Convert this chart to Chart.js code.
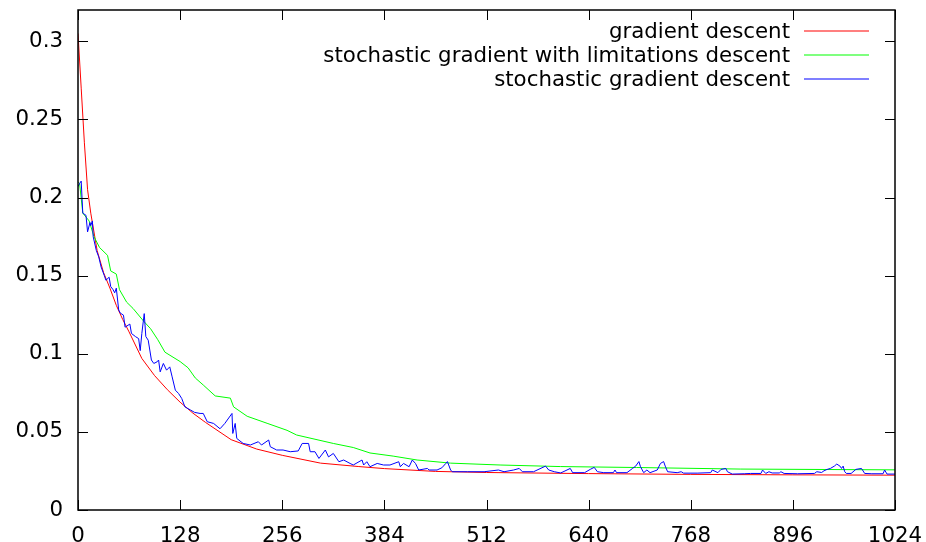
<!DOCTYPE html>
<html>
<head>
<meta charset="utf-8">
<script src="https://cdn.jsdelivr.net/npm/chart.js@4.4.0/dist/chart.umd.min.js"></script>
<style>
  html, body { margin: 0; padding: 0; background: #fff; }
  canvas { display: block; }
</style>
</head>
<body>
<canvas id="chart" width="926" height="542"></canvas>
<script>
// tick labels
const xTicks = [0, 128, 256, 384, 512, 640, 768, 896, 1024];
const yTicks = [0, 0.05, 0.1, 0.15, 0.2, 0.25, 0.3];

const seriesNames = ['gradient descent', 'stochastic gradient with limitations descent', 'stochastic gradient descent'];
const seriesColors = ['#ff0000', '#00ff00', '#0000ff'];

// gradient descent (red)
const redX = [0, 4, 8, 12, 16, 24, 32, 40, 48, 56, 64, 80, 96, 112, 128, 144, 160, 192, 224, 256, 304, 352, 384, 448, 512, 640, 768, 896, 1024];
const redY = [0.305, 0.27, 0.235, 0.205, 0.19, 0.166, 0.152, 0.142, 0.131, 0.122, 0.114, 0.097, 0.086, 0.077, 0.069, 0.062, 0.056, 0.045, 0.039, 0.035, 0.030, 0.0278, 0.0265, 0.0247, 0.024, 0.0233, 0.0228, 0.0225, 0.0223];

// stochastic gradient with limitations descent (green)
const greenX = [0, 2, 6, 14, 20, 27, 37, 41, 48, 52, 61, 69, 82, 91, 100, 109, 128, 138, 147, 157, 172, 191, 195, 212, 237, 262, 274, 320, 345, 366, 395, 425, 467, 529, 605, 700, 830, 1024];
const greenY = [0.21, 0.209, 0.19, 0.185, 0.175, 0.168, 0.163, 0.153, 0.151, 0.141, 0.133, 0.129, 0.121, 0.116, 0.109, 0.101, 0.095, 0.091, 0.0845, 0.080, 0.073, 0.0716, 0.066, 0.060, 0.0555, 0.051, 0.048, 0.0426, 0.040, 0.0365, 0.0345, 0.032, 0.030, 0.0288, 0.0278, 0.0272, 0.0262, 0.0257];

// stochastic gradient descent (blue)
const blueX = [0, 2, 4, 6, 10, 12, 15, 16, 18, 19, 23, 26, 29, 33, 35, 39, 41, 44, 46, 48, 51, 53, 57, 59, 65, 67, 72, 76, 78, 80, 83, 85, 88, 92, 95, 99, 101, 103, 107, 111, 115, 118, 122, 126, 130, 134, 141, 146, 153, 157, 162, 170, 178, 184, 193, 194, 197, 199, 207, 216, 226, 230, 239, 241, 249, 257, 266, 276, 281, 289, 291, 297, 302, 310, 314, 320, 327, 333, 341, 345, 356, 358, 362, 366, 375, 383, 391, 402, 404, 408, 415, 419, 423, 427, 438, 440, 450, 456, 461, 463, 467, 469, 488, 509, 527, 534, 546, 553, 557, 571, 586, 590, 597, 605, 617, 620, 635, 642, 647, 651, 659, 671, 673, 675, 688, 695, 699, 703, 705, 709, 713, 717, 726, 730, 734, 736, 739, 751, 756, 759, 776, 793, 795, 802, 806, 812, 814, 820, 835, 843, 856, 858, 862, 866, 870, 879, 881, 885, 902, 923, 926, 932, 935, 939, 943, 948, 951, 955, 957, 959, 961, 963, 969, 975, 982, 986, 995, 1009, 1011, 1014, 1024];
const blueY = [0.207, 0.209, 0.2105, 0.19, 0.1886, 0.178, 0.184, 0.182, 0.185, 0.175, 0.166, 0.162, 0.1555, 0.15, 0.147, 0.149, 0.143, 0.141, 0.139, 0.142, 0.128, 0.126, 0.1247, 0.117, 0.119, 0.113, 0.111, 0.1097, 0.102, 0.113, 0.1257, 0.111, 0.1087, 0.096, 0.0938, 0.0948, 0.096, 0.0884, 0.0938, 0.0895, 0.0916, 0.0852, 0.0767, 0.0746, 0.0714, 0.066, 0.064, 0.0625, 0.0618, 0.0618, 0.0565, 0.0554, 0.052, 0.0554, 0.0618, 0.049, 0.0554, 0.0458, 0.0426, 0.0416, 0.0437, 0.0416, 0.0448, 0.0405, 0.0384, 0.0384, 0.0373, 0.0378, 0.0426, 0.0426, 0.0373, 0.0373, 0.033, 0.0384, 0.034, 0.0362, 0.0309, 0.032, 0.0298, 0.0288, 0.032, 0.0288, 0.0309, 0.0277, 0.0298, 0.0288, 0.0288, 0.0309, 0.0277, 0.0298, 0.0277, 0.032, 0.0298, 0.0256, 0.0266, 0.0256, 0.0256, 0.027, 0.0298, 0.031, 0.0256, 0.0245, 0.0245, 0.0245, 0.0256, 0.0245, 0.0256, 0.0266, 0.0245, 0.0245, 0.0281, 0.0256, 0.0245, 0.0237, 0.0266, 0.0239, 0.0239, 0.026, 0.0273, 0.0245, 0.0239, 0.0239, 0.0256, 0.0239, 0.0239, 0.0266, 0.0281, 0.031, 0.0277, 0.0239, 0.0256, 0.0239, 0.0256, 0.0298, 0.031, 0.0281, 0.0245, 0.0239, 0.0245, 0.0236, 0.0236, 0.0239, 0.0256, 0.0239, 0.026, 0.0266, 0.0245, 0.023, 0.0232, 0.0234, 0.0234, 0.0256, 0.0234, 0.0245, 0.0237, 0.0237, 0.0245, 0.0234, 0.0232, 0.0234, 0.0245, 0.024, 0.0251, 0.026, 0.0266, 0.0281, 0.0294, 0.0281, 0.0266, 0.0281, 0.0245, 0.0234, 0.0234, 0.026, 0.0266, 0.0234, 0.0232, 0.0232, 0.0256, 0.023, 0.023];

const FONT = "'DejaVu Sans', sans-serif";
const FONT_SIZE = 21.33;

function pts(xs, ys) {
  return xs.map((x, i) => ({ x: x, y: ys[i] }));
}

// gnuplot style frame: border, inward ticks on all four sides, legend top right
const gnuplotFrame = {
  id: 'gnuplotFrame',
  afterDraw(chart) {
    const ctx = chart.ctx;
    const a = chart.chartArea;
    const xs = chart.scales.x, ys = chart.scales.y;
    const tl = 10;
    ctx.save();
    ctx.strokeStyle = '#000';
    ctx.lineWidth = 1;
    ctx.beginPath();
    xTicks.forEach(v => {
      const px = Math.round(xs.getPixelForValue(v)) + 0.5;
      ctx.moveTo(px, a.bottom); ctx.lineTo(px, a.bottom - tl);
      ctx.moveTo(px, a.top); ctx.lineTo(px, a.top + tl);
    });
    yTicks.forEach(v => {
      const py = Math.round(ys.getPixelForValue(v)) + 0.5;
      ctx.moveTo(a.left, py); ctx.lineTo(a.left + tl, py);
      ctx.moveTo(a.right, py); ctx.lineTo(a.right - tl, py);
    });
    ctx.stroke();
    ctx.lineWidth = 1.5;
    ctx.strokeRect(a.left, a.top, a.right - a.left, a.bottom - a.top);

    // legend
    ctx.font = FONT_SIZE + 'px ' + FONT;
    ctx.textAlign = 'right';
    ctx.textBaseline = 'middle';
    seriesNames.forEach((name, i) => {
      const y = 31 + i * 24;
      ctx.fillStyle = '#000';
      ctx.fillText(name, 790, y + 1);
      ctx.strokeStyle = seriesColors[i];
      ctx.lineWidth = 1.2;
      ctx.beginPath();
      ctx.moveTo(804, y);
      ctx.lineTo(869, y);
      ctx.stroke();
    });
    ctx.restore();
  }
};

new Chart(document.getElementById('chart'), {
  type: 'line',
  data: {
    datasets: [
      { label: seriesNames[0], data: pts(redX, redY), borderColor: seriesColors[0], order: 3 },
      { label: seriesNames[1], data: pts(greenX, greenY), borderColor: seriesColors[1], order: 2 },
      { label: seriesNames[2], data: pts(blueX, blueY), borderColor: seriesColors[2], order: 1 }
    ]
  },
  options: {
    responsive: false,
    animation: false,
    events: [],
    parsing: false,
    elements: {
      line: { borderWidth: 1, tension: 0, fill: false },
      point: { radius: 0 }
    },
    layout: { padding: { top: 10, right: 31, left: 0, bottom: 0 } },
    plugins: {
      legend: { display: false },
      tooltip: { enabled: false }
    },
    scales: {
      x: {
        type: 'linear',
        min: 0,
        max: 1024,
        grid: { display: false, drawTicks: false },
        border: { display: false },
        afterBuildTicks: s => { s.ticks = xTicks.map(v => ({ value: v })); },
        afterFit: s => { s.height = 32; s.paddingLeft = 0; s.paddingRight = 0; },
        ticks: {
          padding: 14,
          maxRotation: 0,
          autoSkip: false,
          color: '#000',
          font: { family: FONT, size: FONT_SIZE },
          callback: v => String(v)
        }
      },
      y: {
        min: 0,
        max: 0.32,
        grid: { display: false, drawTicks: false },
        border: { display: false },
        afterBuildTicks: s => { s.ticks = yTicks.map(v => ({ value: v })); },
        afterFit: s => { s.width = 78; s.paddingTop = 0; s.paddingBottom = 0; },
        ticks: {
          padding: 15,
          autoSkip: false,
          color: '#000',
          font: { family: FONT, size: FONT_SIZE },
          callback: v => String(+v.toFixed(2))
        }
      }
    }
  },
  plugins: [gnuplotFrame]
});
</script>
</body>
</html>
